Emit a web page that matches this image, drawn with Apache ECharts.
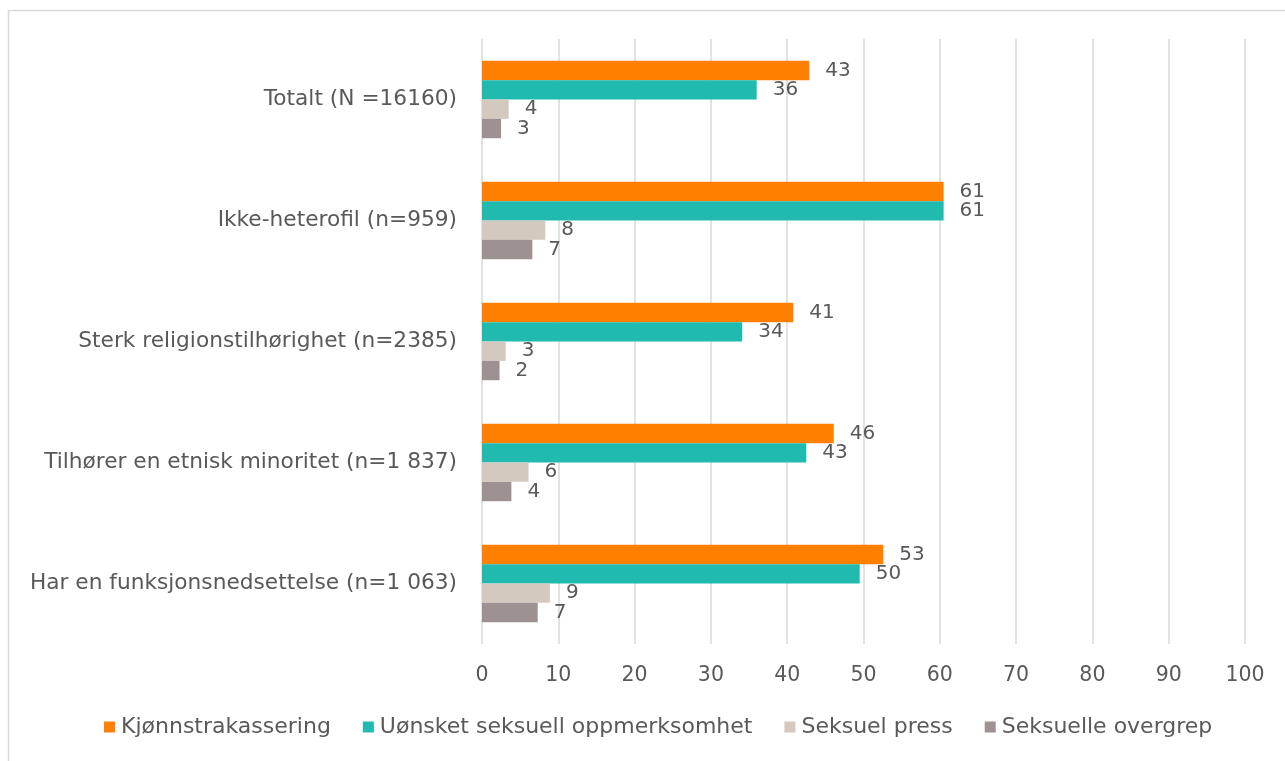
<!DOCTYPE html>
<html>
<head>
<meta charset="utf-8">
<script src="https://cdn.jsdelivr.net/npm/echarts@6/dist/echarts.min.js"></script>
<style>
html,body{margin:0;padding:0;background:#fff;}
#chart{width:1285px;height:761px;}
</style>
</head>
<body>
<div id="chart"></div>
<script>
const categories = [
  'Totalt (N =16160)',
  'Ikke-heterofil (n=959)',
  'Sterk religionstilhørighet (n=2385)',
  'Tilhører en etnisk minoritet (n=1 837)',
  'Har en funksjonsnedsettelse (n=1 063)'
];
const seriesNames = ['Kjønnstrakassering', 'Uønsket seksuell oppmerksomhet', 'Seksuel press', 'Seksuelle overgrep'];
const kjonnstrakassering = [42.9, 60.5, 40.8, 46.1, 52.6];
const uonsket = [36.0, 60.5, 34.1, 42.5, 49.5];
const seksuelPress = [3.5, 8.3, 3.1, 6.1, 8.9];
const overgrep = [2.5, 6.6, 2.3, 3.85, 7.3];
const xTicks = [0, 10, 20, 30, 40, 50, 60, 70, 80, 90, 100];

const colors = ['#FF7F00', '#20BAAE', '#D3C9BF', '#9E9191'];
const FONT = '"DejaVu Sans", sans-serif';
const TXT = '#595959';

const dataSets = [kjonnstrakassering, uonsket, seksuelPress, overgrep];
const chart = echarts.init(document.getElementById('chart'), null, {renderer: 'canvas'});
chart.setOption({
  animation: false,
  backgroundColor: '#fff',
  graphic: [{
    type: 'rect',
    shape: {x: 8.5, y: 10.5, width: 1400, height: 900},
    style: {fill: 'none', stroke: '#D9D9D9', lineWidth: 1.5},
    silent: true
  }],
  grid: {left: 482, right: 40, top: 39, bottom: 117, containLabel: false},
  legend: {
    data: seriesNames,
    bottom: 18,
    left: 99,
    itemWidth: 11,
    itemHeight: 11,
    itemGap: 32,
    icon: 'rect',
    textStyle: {fontFamily: FONT, fontSize: 22, color: TXT, padding: [0, 0, 0, 1]}
  },
  xAxis: {
    type: 'value',
    min: xTicks[0],
    max: xTicks[xTicks.length - 1],
    interval: 10,
    axisLine: {show: false},
    axisTick: {show: false},
    splitLine: {lineStyle: {color: '#D9D9D9', width: 1.5}},
    axisLabel: {fontFamily: FONT, fontSize: 20.5, color: TXT, margin: 21}
  },
  yAxis: {
    type: 'category',
    inverse: true,
    data: categories,
    axisLine: {show: false},
    axisTick: {show: false},
    axisLabel: {fontFamily: FONT, fontSize: 21.7, color: TXT, margin: 25}
  },
  series: dataSets.map((d, i) => ({
    name: seriesNames[i],
    type: 'bar',
    data: d,
    barGap: '0%',
    barCategoryGap: '36%',
    itemStyle: {color: colors[i]},
    label: {
      show: true,
      position: 'right',
      distance: 16,
      fontFamily: FONT,
      fontSize: 20,
      color: TXT,
      formatter: p => Math.round(p.value)
    }
  }))
});
</script>
</body>
</html>
